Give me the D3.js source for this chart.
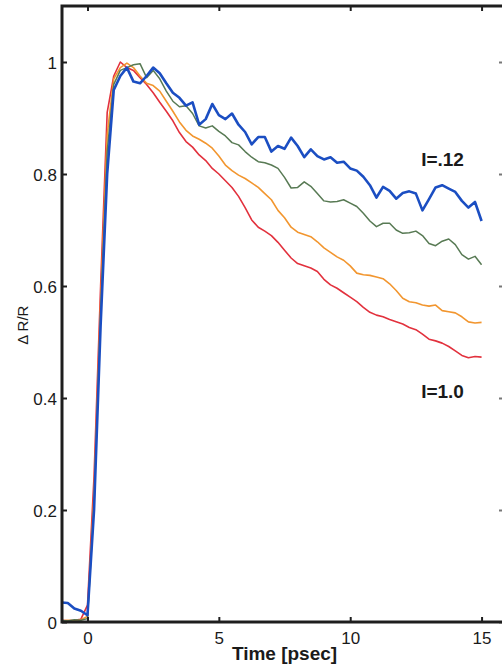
<!DOCTYPE html>
<html>
<head>
<meta charset="utf-8">
<script src="https://cdn.jsdelivr.net/npm/d3@7"></script>
<style>
  html, body { margin: 0; padding: 0; background: #fff; }
  svg { display: block; font-family: "Liberation Sans", Arial, Helvetica, sans-serif; }
</style>
</head>
<body>
<svg id="chart" width="502" height="669"></svg>
<script>
// Time axis (psec), shared by all traces
const times = [
  -1, -0.75, -0.5, -0.25, 0, 0.25, 0.5, 0.75, 1, 1.25, 1.5, 1.75, 2, 2.25, 2.5, 2.75,
  3, 3.25, 3.5, 3.75, 4, 4.25, 4.5, 4.75, 5, 5.25, 5.5, 5.75, 6, 6.25, 6.5, 6.75,
  7, 7.25, 7.5, 7.75, 8, 8.25, 8.5, 8.75, 9, 9.25, 9.5, 9.75, 10, 10.25, 10.5, 10.75,
  11, 11.25, 11.5, 11.75, 12, 12.25, 12.5, 12.75, 13, 13.25, 13.5, 13.75, 14, 14.25, 14.5, 14.75, 15
];

// Normalised reflectivity change ΔR/R for each pump intensity
const seriesI012 = [
  0.035, 0.034, 0.024, 0.020, 0.012, 0.20, 0.53, 0.80, 0.95, 0.975, 0.99, 0.965, 0.962, 0.975, 0.99, 0.98,
  0.962, 0.945, 0.936, 0.922, 0.928, 0.888, 0.898, 0.925, 0.905, 0.898, 0.908, 0.888, 0.875, 0.853, 0.866, 0.866,
  0.840, 0.850, 0.845, 0.865, 0.850, 0.830, 0.844, 0.832, 0.826, 0.830, 0.820, 0.822, 0.810, 0.806, 0.795, 0.780,
  0.758, 0.777, 0.770, 0.756, 0.766, 0.769, 0.765, 0.735, 0.755, 0.776, 0.780, 0.774, 0.768, 0.752, 0.740, 0.750, 0.716
];
const seriesGreen = [
  0.003, 0.002, 0.004, 0.003, 0.006, 0.21, 0.55, 0.84, 0.96, 0.985, 0.99, 0.995, 0.997, 0.972, 0.985, 0.97,
  0.948, 0.930, 0.920, 0.922, 0.908, 0.886, 0.882, 0.886, 0.876, 0.868, 0.856, 0.852, 0.840, 0.830, 0.822, 0.820,
  0.816, 0.810, 0.794, 0.775, 0.776, 0.786, 0.778, 0.765, 0.752, 0.750, 0.751, 0.754, 0.748, 0.742, 0.730, 0.716,
  0.706, 0.712, 0.712, 0.700, 0.694, 0.695, 0.698, 0.690, 0.676, 0.672, 0.680, 0.684, 0.674, 0.656, 0.648, 0.653, 0.638
];
const seriesOrange = [
  0.002, 0.003, 0.002, 0.004, 0.010, 0.23, 0.57, 0.87, 0.97, 0.99, 0.998, 0.99, 0.975, 0.962, 0.958, 0.948,
  0.930, 0.912, 0.893, 0.878, 0.868, 0.862, 0.855, 0.846, 0.832, 0.816, 0.806, 0.798, 0.792, 0.784, 0.776, 0.765,
  0.754, 0.735, 0.722, 0.705, 0.696, 0.692, 0.688, 0.679, 0.668, 0.660, 0.652, 0.646, 0.636, 0.623, 0.620, 0.619,
  0.616, 0.613, 0.604, 0.592, 0.578, 0.572, 0.570, 0.566, 0.564, 0.566, 0.556, 0.554, 0.552, 0.545, 0.536, 0.534, 0.535
];
const seriesI10 = [
  0.003, 0.002, 0.003, 0.005, 0.030, 0.26, 0.60, 0.91, 0.975, 1.0, 0.99, 0.985, 0.972, 0.960, 0.945, 0.928,
  0.912, 0.895, 0.874, 0.858, 0.848, 0.834, 0.824, 0.810, 0.800, 0.788, 0.776, 0.760, 0.740, 0.718, 0.705, 0.698,
  0.690, 0.678, 0.664, 0.650, 0.640, 0.636, 0.632, 0.626, 0.612, 0.602, 0.596, 0.588, 0.580, 0.572, 0.562, 0.553,
  0.548, 0.545, 0.540, 0.536, 0.532, 0.526, 0.522, 0.514, 0.505, 0.502, 0.498, 0.492, 0.484, 0.476, 0.472, 0.474, 0.473
];

const xTicks = [0, 5, 10, 15];
const yTicks = [0, 0.2, 0.4, 0.6, 0.8, 1];
const xDomain = [-0.97, 15.93];
const yDomain = [0, 1.1];

const traces = [
  { name: "I=1.0", values: seriesI10,    color: "#e2313d", width: 1.6 },
  { name: "mid2",  values: seriesOrange, color: "#f2962f", width: 1.6 },
  { name: "mid1",  values: seriesGreen,  color: "#587a54", width: 1.5 },
  { name: "I=.12", values: seriesI012,   color: "#1b4ec2", width: 2.6 }
];

const labels = [
  { text: "I=.12", t: 12.7, v: 0.815 },
  { text: "I=1.0", t: 12.7, v: 0.4 }
];

const plot = { left: 62, right: 506, top: 6, bottom: 622 };

const svg = d3.select("#chart");
const x = d3.scaleLinear().domain(xDomain).range([plot.left, plot.right]);
const y = d3.scaleLinear().domain(yDomain).range([plot.bottom, plot.top]);

svg.append("defs").append("clipPath").attr("id", "plotClip")
  .append("rect")
  .attr("x", plot.left).attr("y", plot.top)
  .attr("width", plot.right - plot.left).attr("height", plot.bottom - plot.top);

// Traces
const line = d3.line().x((d, i) => x(times[i])).y(d => y(d));
const g = svg.append("g").attr("clip-path", "url(#plotClip)");
traces.forEach(tr => {
  g.append("path")
    .datum(tr.values)
    .attr("d", line)
    .attr("fill", "none")
    .attr("stroke", tr.color)
    .attr("stroke-width", tr.width)
    .attr("stroke-linejoin", "round");
});

// Axes: inward ticks on all four sides
const axisColor = "#1e1e1e";
const fmt = d => String(d);

const axBottom = svg.append("g").attr("transform", `translate(0,${plot.bottom})`)
  .call(d3.axisBottom(x).tickValues(xTicks).tickFormat(fmt).tickSizeInner(-5).tickSizeOuter(0).tickPadding(10));
const axTop = svg.append("g").attr("transform", `translate(0,${plot.top})`)
  .call(d3.axisTop(x).tickValues(xTicks).tickFormat("").tickSizeInner(-5).tickSizeOuter(0));
const axLeft = svg.append("g").attr("transform", `translate(${plot.left},0)`)
  .call(d3.axisLeft(y).tickValues(yTicks).tickFormat(fmt).tickSizeInner(-5).tickSizeOuter(0).tickPadding(5));
const axRight = svg.append("g").attr("transform", `translate(${plot.right},0)`)
  .call(d3.axisRight(y).tickValues(yTicks).tickFormat("").tickSizeInner(-7).tickSizeOuter(0));

[axBottom, axTop, axLeft, axRight].forEach(a => {
  a.select(".domain").remove();
  a.selectAll(".tick line").attr("stroke", axisColor).attr("stroke-width", 2);
  a.selectAll(".tick text").attr("fill", "#1a1a1a").style("font-size", "17px");
});
axLeft.selectAll(".tick text").attr("dy", "0.4em");
axRight.selectAll(".tick line").attr("stroke", "#777");

// Frame
svg.append("rect")
  .attr("x", plot.left).attr("y", plot.top)
  .attr("width", plot.right - plot.left).attr("height", plot.bottom - plot.top)
  .attr("fill", "none").attr("stroke", axisColor).attr("stroke-width", 3);

// Axis titles
svg.append("text")
  .attr("x", (x(0) + x(15)) / 2).attr("y", 660)
  .attr("text-anchor", "middle")
  .attr("fill", "#1a1a1a")
  .style("font-size", "19px").style("font-weight", "bold")
  .text("Time [psec]");

svg.append("text")
  .attr("transform", `translate(28,${y(0.53)}) rotate(-90)`)
  .attr("text-anchor", "middle")
  .attr("fill", "#1a1a1a")
  .style("font-size", "15px")
  .text("Δ R/R");

// Intensity annotations
labels.forEach(l => {
  svg.append("text")
    .attr("x", x(l.t)).attr("y", y(l.v))
    .attr("fill", "#1a1a1a")
    .style("font-size", "19px").style("font-weight", "bold")
    .text(l.text);
});
</script>
</body>
</html>
